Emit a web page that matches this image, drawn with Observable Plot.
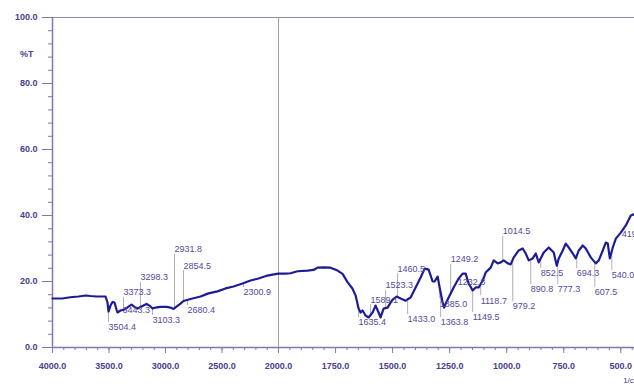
<!DOCTYPE html>
<html><head><meta charset="utf-8">
<script src="https://cdn.jsdelivr.net/npm/d3@7"></script>
<script src="https://cdn.jsdelivr.net/npm/@observablehq/plot@0.6"></script>
<style>
body{margin:0;background:#fff;}
#chart{width:634px;height:384px;overflow:hidden;position:relative;}
</style>
</head><body><div id="chart"></div>
<script>
// Spectrum (wavenumber in 1/cm, transmittance in %T)
const wavenumber = [4000,3911.5,3858.4,3823,3769.9,3707.9,3663.7,3610.6,3530.9,3513.3,3504.4,3486.7,3469,3451.3,3433.6,3424.8,3398.2,3362.8,3327.4,3300.9,3274.3,3247.8,3203.5,3168.1,3141.6,3115,3088.5,3044.2,2991.1,2955.7,2929.2,2902.6,2867.2,2840.7,2778.7,2690.2,2619.4,2539.8,2468.9,2398.2,2318.5,2247.7,2176.9,2097.3,2053,2000,
1969.3,1947.4,1916.7,1872.8,1846.5,1828.9,1802.6,1771.9,1741.2,1719.3,1697.4,1675.4,1662.3,1649.1,1640.3,1631.6,1618.4,1605.3,1587.7,1574.6,1561.4,1552.6,1539.5,1521.9,1508.8,1500,1482.5,1464.9,1443,1421.1,1399.1,1377.2,1359.6,1342.1,1324.6,1315.8,1302.6,1293.9,1280.7,1274.1,1267.5,1254.4,1232.5,1210.5,1193,1179.8,1166.7,1149.1,1136,1122.8,1105.3,1092.1,1070.2,1057,1039.5,1026.3,1013.2,995.6,982.4,969.3,947.4,929.8,916.7,903.5,885.9,872.8,859.6,837.7,815.8,793.9,780.7,771.9,754.4,741.2,728.1,710.5,697.4,684.2,666.7,653.5,631.6,609.6,596.5,579,565.8,557,548.2,535.1,521.9,500,478.1,456.1,438.6];
const transmittance = [14.85,14.85,15.15,15.3,15.45,15.76,15.6,15.45,15.45,13.64,10.9,12.7,13.8,13.64,11.5,10.6,11.2,11.5,12.4,13.0,12.3,11.8,12.6,13.2,12.7,11.8,12.1,12.3,12.3,12.1,11.7,12.4,13.3,14.1,14.7,15.45,16.4,17.0,17.9,18.5,19.4,20.3,20.9,21.8,22.1,22.4,
22.4,22.5,23.1,23.3,23.5,24.2,24.3,24.2,23.3,22.3,19.8,17.8,15.8,11.8,10.6,11.2,9.7,9.1,10.6,12.7,10.6,9.1,11.8,12.1,13.6,14.5,15.45,14.85,14.2,15.15,18.2,21.2,23.9,23.6,20.0,20.0,21.5,18.2,13.6,12.1,13.3,15.15,18.2,20.9,22.4,22.4,19.4,17.3,18.2,18.2,20.3,22.7,24.2,26.4,25.5,25.8,26.4,25.5,25.2,27.3,29.4,30.0,28.5,26.4,27.0,28.5,25.8,28.8,30.3,28.8,24.8,27.0,29.4,31.5,30.3,28.5,27.0,29.4,30.9,30.0,27.3,25.5,26.4,29.4,31.8,31.5,27.0,30.3,33.0,34.8,37.0,40.0,40.5];

// Peak annotations
const peakLabels = ["3504.4","3443.3","3373.3","3298.3","3103.3","2931.8","2854.5","2680.4","2300.9","1635.4","1589.1","1523.3","1460.5","1433.0","1385.0","1363.8","1249.2","1232.8","1149.5","1118.7","1014.5","979.2","890.8","852.5","777.3","694.3","607.5","540.0","419.2"];
const peakLabelWn = [3504.4,3380.5,3371.6,3221.2,3115,2920.3,2840.7,2805.3,2309.7,1649.1,1596.5,1530.7,1478.1,1434.2,1293.9,1289.5,1245.6,1214.9,1149.1,1114,1017.5,973.7,894.7,850.9,776.3,693,614,539.5,495.6];
const peakLabelT = [6.06,11.2,16.7,21.2,8.2,29.7,24.8,11.2,16.7,7.6,14.5,18.8,23.9,8.5,13.3,7.6,26.7,19.7,9.1,14.2,35.2,12.4,17.6,22.4,17.6,22.4,16.7,21.8,34.5];

// Axis ticks
const xMajorTicks = [4000,3500,3000,2500,2000,1750,1500,1250,1000,750,500];
const xMinorTicks = d3.range(4000, 2000, -100).concat(d3.range(2000, 440, -50));
const yMajorTicks = [0,20,40,60,80,100];
const yMinorTicks = d3.range(0, 101, 4);

// FTIR axis: scale changes at 2000 1/cm (half-scale above 2000)
const xBreak = d3.scaleLinear().domain([4000, 2000, 440]).range([0, 226, 582]);

const spectrum = wavenumber.map((w, i) => ({wn: w, t: transmittance[i]}));
function curveAt(w) {
  for (let i = 0; i < spectrum.length - 1; i++) {
    const a = spectrum[i], b = spectrum[i + 1];
    if (w <= a.wn && w >= b.wn) {
      const f = (a.wn - w) / (a.wn - b.wn);
      return a.t + f * (b.t - a.t);
    }
  }
  return spectrum[spectrum.length - 1].t;
}
const peaks = peakLabels.map((s, i) => ({label: s, wn: peakLabelWn[i], t: peakLabelT[i]}));
const leaders = peaks.map(p => {
  const c = curveAt(p.wn);
  const end = p.t > c ? p.t - 1.5 : p.t + 1.5;
  return {wn: p.wn, y1: c, y2: end, ok: (p.t > c ? end > c : end < c)};
}).filter(d => d.ok);

const axisColor = "#7f7aae";
const textColor = "#4a3d8f";
const fmtWn = u => Math.round(xBreak.invert(u)).toFixed(1);

const chart = Plot.plot({
  width: 634, height: 384,
  marginLeft: 52, marginRight: 0, marginTop: 17, marginBottom: 37,
  style: {fontFamily: "'Liberation Sans', Arial, sans-serif", fontSize: "9px", background: "#fff", overflow: "visible"},
  x: {type: "linear", transform: xBreak, domain: [0, 582]},
  y: {domain: [0, 100]},
  marks: [
    Plot.ruleY([100], {stroke: "#8e8ca8", strokeWidth: 1}),
    Plot.ruleX([2000], {stroke: "#a0a0a0", strokeWidth: 1}),
    Plot.axisX({ticks: xMinorTicks.map(xBreak), tickSize: 3, tickFormat: () => "", stroke: axisColor, label: null}),
    Plot.axisX({ticks: xMajorTicks.map(xBreak), tickSize: 6, tickPadding: 9, tickFormat: fmtWn, stroke: axisColor, fill: textColor, label: null, fontWeight: "bold"}),
    Plot.axisY({ticks: yMinorTicks, tickSize: 4, tickFormat: () => "", stroke: axisColor, label: null}),
    Plot.axisY({ticks: yMajorTicks, tickSize: 10, tickPadding: 5, tickFormat: d => d.toFixed(1), stroke: axisColor, fill: textColor, label: null, fontWeight: "bold"}),
    Plot.ruleY([0], {stroke: axisColor, strokeWidth: 1.5}),
    Plot.ruleX([4000], {stroke: axisColor, strokeWidth: 1.5}),
    Plot.ruleX(leaders, {x: "wn", y1: "y1", y2: "y2", stroke: "#9c9cac", strokeWidth: 0.8}),
    Plot.line(spectrum, {x: "wn", y: "t", stroke: "#1c1c96", strokeWidth: 2.2, curve: "linear"}),
    Plot.text(peaks, {x: "wn", y: "t", text: "label", textAnchor: "start", fill: "#55499a", fontSize: 9}),
    Plot.text(["%T"], {frameAnchor: "top-left", dx: -19, dy: 33, textAnchor: "end", fill: textColor, fontWeight: "bold"}),
    Plot.text(["1/cm"], {frameAnchor: "bottom-right", dx: 6, dy: 35, textAnchor: "end", fill: textColor, fontSize: 8})
  ]
});
document.getElementById("chart").appendChild(chart);
</script>
</body></html>
